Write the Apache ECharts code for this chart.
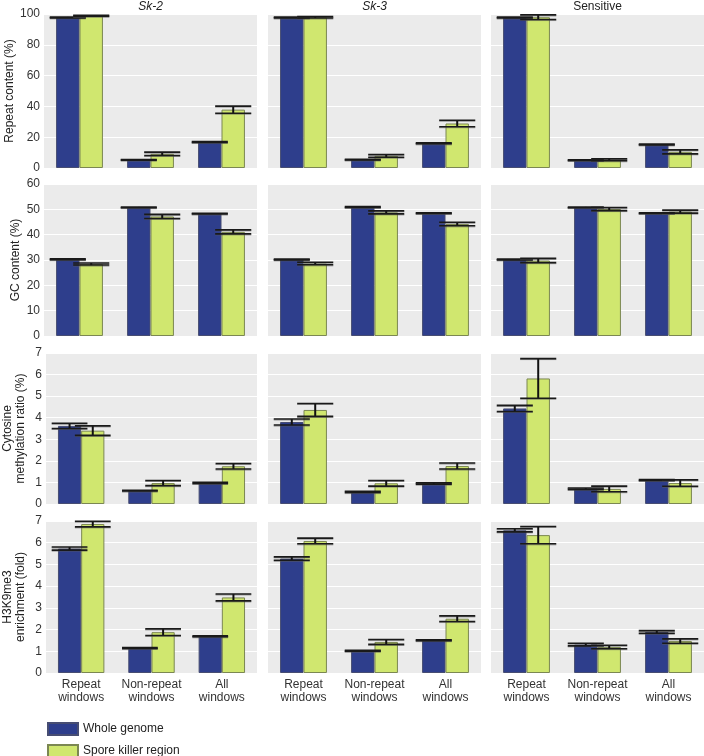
<!DOCTYPE html>
<html>
<head>
<meta charset="utf-8">
<script src="https://cdn.jsdelivr.net/npm/echarts@6/dist/echarts.min.js"></script>
<style>html,body{margin:0;padding:0;background:#fff}#c{width:704px;height:756px}</style>
</head>
<body>
<div id="c"></div>
<script>
// ---- data ----
const categories = ['Repeat\nwindows', 'Non-repeat\nwindows', 'All\nwindows'];
const strains = ['Sk-2', 'Sk-3', 'Sensitive'];
const seriesNames = ['Whole genome', 'Spore killer region'];
const metricNames = ['Repeat content (%)', 'GC content (%)', 'Cytosine\nmethylation ratio (%)', 'H3K9me3\nenrichment (fold)'];
const yMax = [100, 60, 7, 7];
const yInterval = [20, 10, 1, 1];

// each array: [Sk-2, Sk-3, Sensitive], each inner: [Repeat, Non-repeat, All]
const repeatWhole    = [[97.8, 5.3, 16.9], [97.7, 5.4, 16.0], [97.7, 5.1, 15.3]];
const repeatWholeErr = [[0.3, 0.2, 0.3], [0.3, 0.2, 0.3], [0.3, 0.2, 0.3]];
const repeatSpore    = [[98.8, 9.2, 37.9], [97.9, 7.9, 28.9], [97.9, 5.3, 10.5]];
const repeatSporeErr = [[0.3, 1.1, 2.3], [0.5, 0.9, 2.1], [1.5, 0.6, 1.3]];

const gcWhole    = [[30.3, 50.8, 48.3], [30.2, 50.9, 48.5], [30.2, 50.8, 48.5]];
const gcWholeErr = [[0.15, 0.15, 0.15], [0.15, 0.15, 0.15], [0.15, 0.15, 0.15]];
const gcSpore    = [[28.4, 47.2, 41.1], [28.6, 48.8, 44.2], [29.8, 50.1, 49.1]];
const gcSporeErr = [[0.4, 0.8, 0.8], [0.5, 0.6, 0.7], [0.85, 0.6, 0.6]];

const methWhole    = [[3.62, 0.62, 0.98], [3.80, 0.56, 0.95], [4.43, 0.71, 1.11]];
const methWholeErr = [[0.12, 0.02, 0.03], [0.14, 0.03, 0.03], [0.14, 0.03, 0.02]];
const methSpore    = [[3.40, 0.97, 1.75], [4.36, 0.96, 1.76], [5.82, 0.70, 0.97]];
const methSporeErr = [[0.22, 0.12, 0.13], [0.30, 0.13, 0.14], [0.92, 0.13, 0.15]];

const h3Whole    = [[5.73, 1.15, 1.69], [5.27, 1.02, 1.51], [6.57, 1.31, 1.89]];
const h3WholeErr = [[0.07, 0.02, 0.02], [0.08, 0.02, 0.02], [0.07, 0.06, 0.06]];
const h3Spore    = [[6.86, 1.88, 3.48], [6.08, 1.43, 2.50], [6.35, 1.20, 1.47]];
const h3SporeErr = [[0.13, 0.15, 0.16], [0.13, 0.11, 0.13], [0.40, 0.08, 0.10]];

const metrics = [
  [repeatWhole, repeatWholeErr, repeatSpore, repeatSporeErr],
  [gcWhole, gcWholeErr, gcSpore, gcSporeErr],
  [methWhole, methWholeErr, methSpore, methSporeErr],
  [h3Whole, h3WholeErr, h3Spore, h3SporeErr]
];

// ---- layout ----
const FONT = 'Liberation Sans, Arial, Helvetica, sans-serif';
const colLeft = [44, 268, 491];
const colWidth = 213;
const rowTop = [14, 184, 353, 521];
const rowHeight = [154, 152, 151, 152];
const nameGaps = [28, 22, 19, 19];
const barColors = ['#2E3E8C', '#D0E76F'];
const barBorders = ['#474d72', '#7b8752'];
const BAR_FRAC = 0.33;

const grid = [], xAxis = [], yAxis = [], series = [], title = [];

function renderErr(params, api) {
  const cat = api.value(0), mean = api.value(1), err = api.value(2), side = api.value(3);
  const band = api.size([1, 0])[0];
  const bw = band * BAR_FRAC;
  const c = api.coord([cat, mean]);
  const x = c[0] + (side === 0 ? -bw / 2 : bw / 2);
  const yTop = api.coord([cat, mean + err])[1];
  const yBot = api.coord([cat, mean - err])[1];
  const hw = bw * 0.77;
  const capStyle = { stroke: '#1a1a1a', lineWidth: 1.6 };
  return {
    type: 'group',
    children: [
      { type: 'line', shape: { x1: x - hw, y1: yBot + 1, x2: x + hw, y2: yBot + 1 }, style: { stroke: 'rgba(90,90,90,0.6)', lineWidth: 1 } },
      { type: 'line', shape: { x1: x - hw, y1: yTop + 1, x2: x + hw, y2: yTop + 1 }, style: { stroke: 'rgba(90,90,90,0.6)', lineWidth: 1 } },
      { type: 'line', shape: { x1: x, y1: yTop, x2: x, y2: yBot }, style: { stroke: '#111', lineWidth: 2 } },
      { type: 'line', shape: { x1: x - hw, y1: yTop, x2: x + hw, y2: yTop }, style: capStyle },
      { type: 'line', shape: { x1: x - hw, y1: yBot, x2: x + hw, y2: yBot }, style: capStyle }
    ]
  };
}

for (let r = 0; r < 4; r++) {
  for (let c = 0; c < 3; c++) {
    const idx = r * 3 + c;
    grid.push({ left: colLeft[c], top: rowTop[r], width: colWidth, height: rowHeight[r],
      show: true, backgroundColor: '#EBEBEB', borderWidth: 0, containLabel: false });
    xAxis.push({
      type: 'category', gridIndex: idx, data: categories,
      axisLine: { show: false }, axisTick: { show: false }, splitLine: { show: false },
      axisLabel: { show: r === 3, margin: 5, fontSize: 12, lineHeight: 13, color: '#333', fontFamily: FONT, interval: 0 }
    });
    yAxis.push({
      type: 'value', gridIndex: idx, min: 0, max: yMax[r], interval: yInterval[r],
      axisLine: { show: false }, axisTick: { show: false },
      splitLine: { show: true, lineStyle: { color: '#ffffff', width: 1.2 } },
      axisLabel: { show: c === 0, margin: 4, fontSize: 12, color: '#333', fontFamily: FONT },
      name: c === 0 ? metricNames[r] : '',
      nameLocation: 'middle', nameGap: nameGaps[r], nameRotate: 90,
      nameTextStyle: { fontSize: 12, lineHeight: 13, color: '#222', fontFamily: FONT }
    });
    const m = metrics[r];
    for (let s = 0; s < 2; s++) {
      const vals = m[s * 2][c];
      const errs = m[s * 2 + 1][c];
      series.push({
        type: 'bar', name: seriesNames[s], xAxisIndex: idx, yAxisIndex: idx,
        data: vals, barWidth: (BAR_FRAC * 100) + '%', barGap: '0%',
        itemStyle: { color: barColors[s], borderColor: barBorders[s], borderWidth: 1 },
        emphasis: { disabled: true }
      });
      series.push({
        type: 'custom', name: 'err' + idx + '_' + s, xAxisIndex: idx, yAxisIndex: idx,
        renderItem: renderErr, z: 5, clip: false,
        data: vals.map((v, i) => [i, v, errs[i], s])
      });
    }
  }
}

strains.forEach((s, c) => {
  title.push({
    text: s, left: colLeft[c] + colWidth / 2, top: 1, textAlign: 'center', padding: 0,
    textStyle: { fontSize: 12, fontWeight: 'normal', fontStyle: c < 2 ? 'italic' : 'normal', color: '#222', fontFamily: FONT }
  });
});

const legendTops = [722, 744];
const legend = seriesNames.map((n, i) => ({
  data: [n], orient: 'horizontal', left: 47, top: legendTops[i], padding: 0,
  itemWidth: 30, itemHeight: 12, icon: 'rect',
  textStyle: { fontSize: 12, color: '#222', fontFamily: FONT },
  selectedMode: false
}));

const chart = echarts.init(document.getElementById('c'), null, { renderer: 'canvas' });
chart.setOption({
  animation: false,
  title: title,
  legend: legend,
  grid: grid, xAxis: xAxis, yAxis: yAxis, series: series
});
</script>
</body>
</html>
